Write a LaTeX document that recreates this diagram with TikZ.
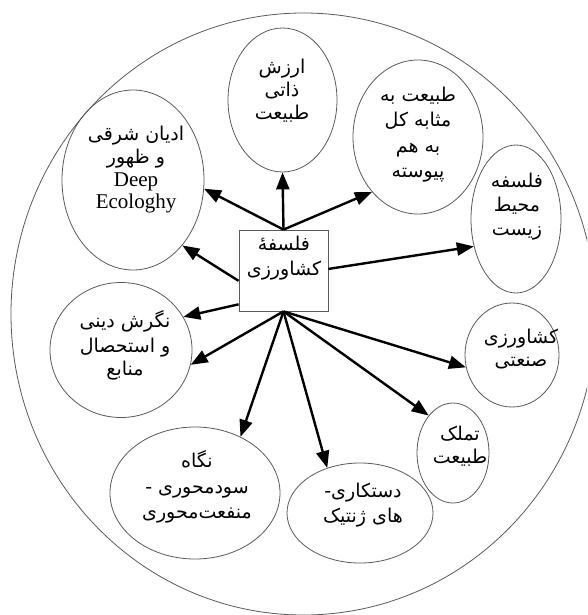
\documentclass[tikz,border=0pt]{standalone}
\usepackage{fontspec}
\setmainfont{Liberation Serif}
\newfontfamily\arabicfont[Script=Arabic]{DejaVu Sans}
\TeXXeTstate=1
\usetikzlibrary{shapes.geometric,arrows.meta}
\begin{document}
\begin{tikzpicture}[x=1pt,y=-1pt,
  edge/.style={draw=black!65, line width=0.8pt},
  bub/.style={edge, ellipse, inner sep=0pt},
  ar/.style={font=\arabicfont\fontsize{19}{22}\selectfont, anchor=base, inner sep=0pt},
  la/.style={font=\fontsize{21}{24}\selectfont, anchor=base, inner sep=0pt},
  arr/.style={line width=2.4pt, -{Triangle[length=17pt,width=13pt]}}]
\useasboundingbox (0,0) rectangle (587,615);
\begin{scope}
\clip (0,0) rectangle (587,615);
\draw[edge] (303.5,314) ellipse [x radius=292.5pt, y radius=301pt];
\end{scope}
% bubbles
\node[bub, minimum width=109pt, minimum height=144pt] (e1) at (282.5,100) {};
\node[bub, minimum width=142pt, minimum height=180pt] (e2) at (133,180) {};
\node[bub, minimum width=130pt, minimum height=154pt] (e3) at (418,137) {};
\node[bub, minimum width=90pt, minimum height=148pt] (e4) at (516,219) {};
\node[bub, minimum width=94pt, minimum height=104pt] (e5) at (512,355) {};
\node[bub, minimum width=72pt, minimum height=100pt] (e6) at (453,453) {};
\node[bub, minimum width=146pt, minimum height=100pt] (e7) at (360,513) {};
\node[bub, minimum width=170pt, minimum height=132pt] (e8) at (195,493) {};
\node[bub, minimum width=142pt, minimum height=135pt] (e9) at (121,350) {};
\node[edge, minimum width=89pt, minimum height=81pt, inner sep=0pt] (box) at (283.5,270.5) {};
% arrows
\draw[arr] (box.north) -- (e1.south);
\draw[arr] (box.north) -- (e2.-7);
\draw[arr] (box.north) -- (e3.230);
\draw[arr] (box.193) -- (e2.-53);
\draw[arr] (box.2) -- (e4.213);
\draw[arr] (box.217) -- (e9.28);
\draw[arr] (box.south) -- (e9.-12);
\draw[arr] (box.south) -- (e8.51);
\draw[arr] (box.south) -- (e7.126);
\draw[arr] (box.south) -- (e6.123);
\draw[arr] (box.south) -- (e5.195);
% texts
\node[ar] (t1a) at (282,74) {\beginR ارزش\endR};
\node[ar] (t1b) at (282,97) {\beginR ذاتی\endR};
\node[ar] (t1c) at (282,119) {\beginR طبیعت\endR};
\node[ar] (t2a) at (136,140) {\beginR ادیان شرقی\endR};
\node[ar] (t2b) at (136,163) {\beginR و ظهور\endR};
\node[la] (t2c) at (136,186) {Deep};
\node[la] (t2d) at (136,208) {Ecologhy};
\node[ar] (t3a) at (418,102) {\beginR طبیعت به\endR};
\node[ar] (t3b) at (418,127) {\beginR مثابه کل\endR};
\node[ar] (t3c) at (418,152) {\beginR به هم\endR};
\node[ar] (t3d) at (418,177) {\beginR پیوسته\endR};
\node[ar] (t4a) at (517,187) {\beginR فلسفه\endR};
\node[ar] (t4b) at (517,211) {\beginR محیط\endR};
\node[ar] (t4c) at (517,235) {\beginR زیست\endR};
\node[ar] (t0a) at (284,250) {\beginR فلسفهٔ\endR};
\node[ar] (t0b) at (284,275) {\beginR کشاورزی\endR};
\node[ar] (t5a) at (521,343) {\beginR کشاورزی\endR};
\node[ar] (t5b) at (521,366) {\beginR صنعتی\endR};
\node[ar] (t6a) at (460,440) {\beginR تملک\endR};
\node[ar] (t6b) at (460,463) {\beginR طبیعت\endR};
\node[ar] (t7a) at (363,497) {\beginR دستکاری-\endR};
\node[ar] (t7b) at (363,522) {\beginR های ژنتیک\endR};
\node[ar] (t8a) at (197,467) {\beginR نگاه\endR};
\node[ar] (t8b) at (197,493) {\beginR سودمحوری -\endR};
\node[ar] (t8c) at (197,518) {\beginR منفعت‌محوری\endR};
\node[ar] (t9a) at (125,327) {\beginR نگرش دینی\endR};
\node[ar] (t9b) at (125,352) {\beginR و استحصال\endR};
\node[ar] (t9c) at (125,375) {\beginR منابع\endR};
\end{tikzpicture}
\end{document}
